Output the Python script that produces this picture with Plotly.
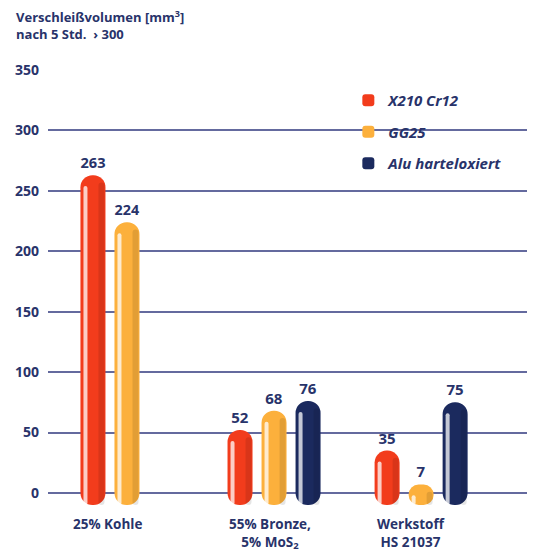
import plotly.graph_objects as go

categories = ["25% Kohle", "55% Bronze,<br>5% MoS<sub>2</sub>", "Werkstoff<br>HS 21037"]
series_names = ["X210 Cr12", "GG25", "Alu harteloxiert"]
x210 = [263, 52, 35]
gg25 = [224, 68, 7]
alu = [None, 76, 75]
series_values = [x210, gg25, alu]
colors = ["#f23c1c", "#fcb03c", "#1b2a5e"]
y_ticks = [0, 50, 100, 150, 200, 250, 300, 350]
label_shift = [-19, -4, -10]

NAVY = "#28336a"
FONT = "Open Sans"
px_per_cat = 147.0
slot = 34 / px_per_cat
bw = 25 / px_per_cat
base_val = -10

fig = go.Figure()
for i, (name, vals, col) in enumerate(zip(series_names, series_values, colors)):
    off = (i - 1) * slot - bw / 2
    fig.add_trace(go.Bar(
        x=categories, y=[None if v is None else v - base_val for v in vals], base=base_val,
        name=name, marker=dict(color=col, line=dict(width=0)),
        width=bw, offset=off,
        text=[None if v is None else str(v) for v in vals],
        textposition="outside", cliponaxis=False,
        textfont=dict(family=FONT, size=15, color=NAVY, weight="bold"),
        legendgroup=name,
    ))
    # cylinder highlight stripe
    fig.add_trace(go.Bar(
        x=categories, y=[None if v is None else max(v - base_val - 9, 0) for v in vals], base=base_val,
        marker=dict(color="rgba(255,255,255,0.75)", line=dict(width=0)),
        width=4 / px_per_cat, offset=off + 3 / px_per_cat,
        showlegend=False, hoverinfo="skip",
    ))
    # right shading
    fig.add_trace(go.Bar(
        x=categories, y=[None if v is None else max(v - base_val - 6, 0) for v in vals], base=base_val,
        marker=dict(color="rgba(0,0,0,0.10)", line=dict(width=0)),
        width=6 / px_per_cat, offset=off + bw - 7 / px_per_cat,
        showlegend=False, hoverinfo="skip",
    ))

annotations = [
    dict(text="Verschleißvolumen [mm<sup>3</sup>]<br>nach 5 Std.  › 300",
         xref="paper", yref="paper", x=-48 / 479, y=1 + 65 / 435,
         xanchor="left", yanchor="top", align="left", showarrow=False,
         xshift=14,
         font=dict(family=FONT, size=13, color=NAVY, weight="bold")),
]
for cat, sh in zip(categories, label_shift):
    annotations.append(dict(
        text=cat, x=cat, xref="x", y=0, yref="paper", yanchor="top",
        yshift=-8, xshift=sh, showarrow=False, align="center",
        font=dict(family=FONT, size=13.5, color=NAVY, weight="bold")))

fig.update_layout(
    width=536, height=553,
    margin=dict(l=48, r=9, t=70, b=48),
    paper_bgcolor="white", plot_bgcolor="white",
    barmode="overlay", barcornerradius=12,
    showlegend=True,
    legend=dict(x=0.627, y=0.968, xanchor="left", yanchor="top",
                font=dict(family=FONT, size=15, color=NAVY, weight="bold", style="italic"),
                tracegroupgap=9, bgcolor="rgba(0,0,0,0)"),
    annotations=annotations,
    xaxis=dict(type="category", range=[-0.537, 2.72], showticklabels=False,
               showgrid=False, zeroline=False, showline=False, ticks=""),
    yaxis=dict(range=[base_val, 350], tickvals=y_ticks, showgrid=True,
               gridcolor="#646a9e", gridwidth=1.5, zeroline=True,
               zerolinecolor="#646a9e", zerolinewidth=1.5,
               ticks="", ticklabelstandoff=8,
               tickfont=dict(family=FONT, size=14, color=NAVY, weight="bold")),
)

fig.write_html("out.html")
